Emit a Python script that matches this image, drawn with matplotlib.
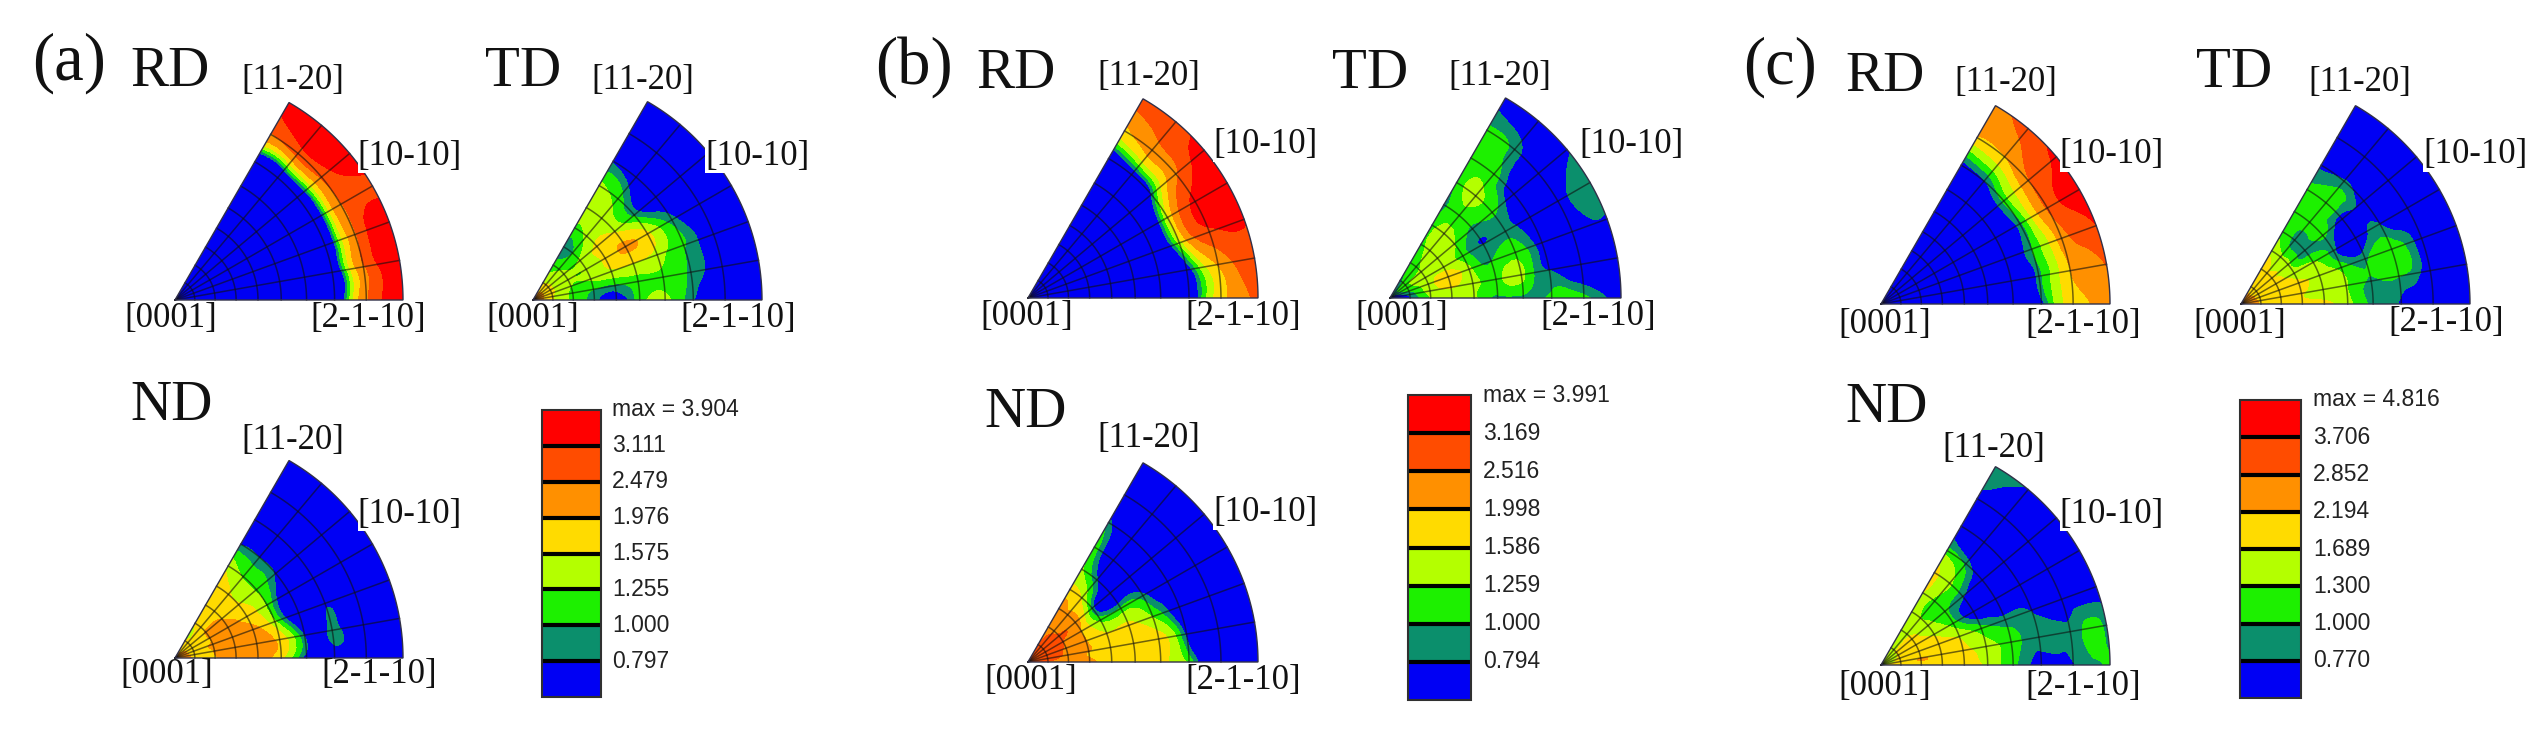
import numpy as np
import matplotlib
matplotlib.use("Agg")
import matplotlib.pyplot as plt
import matplotlib.tri as mtri
from matplotlib.patches import Polygon

# inverse pole figure grid: polar angle nodes and stereographic radius nodes
theta_nodes = [0, 10, 20, 30, 40, 50, 60]
r_nodes = [0, .087, .176, .268, .364, .466, .577, .64, .70, .77, .839, .92, 1]
grid_r = [.087, .176, .268, .364, .466, .577, .70, .839]
grid_theta = [10, 20, 30, 40, 50]

colors = ["#0000f4", "#0b8f6c", "#1df000", "#b4ff00", "#ffdb00", "#ff9000", "#ff4c00", "#ff0000"]

levels_a = [0, 0.797, 1.000, 1.255, 1.575, 1.976, 2.479, 3.111, 3.904]
levels_b = [0, 0.794, 1.000, 1.259, 1.586, 1.998, 2.516, 3.169, 3.991]
levels_c = [0, 0.770, 1.000, 1.300, 1.689, 2.194, 2.852, 3.706, 4.816]

# rows follow theta_nodes, columns follow r_nodes
a_rd = [
    [.3, .3, .3, .3, .3, .3, .3, .3, .3, 1.55, 2.5, 3.3, 3.5],
    [.3, .3, .3, .3, .3, .3, .3, .3, .3, 1.55, 2.5, 3.4, 3.5],
    [.3, .3, .3, .3, .3, .3, .3, .3, .3, 1.55, 2.5, 3.5, 3.5],
    [.3, .3, .3, .3, .3, .3, .3, .3, .3, 1.55, 2.5, 2.9, 3.0],
    [.3, .3, .3, .3, .3, .3, .3, .3, .3, 1.55, 2.7, 3.4, 3.6],
    [.3, .3, .3, .3, .3, .3, .3, .3, .3, 1.55, 2.85, 3.6, 3.7],
    [.3, .3, .3, .3, .3, .3, .3, .3, .3, 1.55, 2.5, 3.1, 3.5],
]
a_td = [
    [2.5, 1.6, 1.2, .85, .55, 1.15, 1.3, 1.05, .78, .5, .4, .4, .4],
    [2.5, 1.6, 1.2, 1.0, .95, 1.15, 1.2, 1.1, .92, .72, .4, .4, .4],
    [2.5, 1.65, 1.25, 1.3, 1.5, 1.55, 1.4, 1.15, 1.0, .72, .4, .4, .4],
    [2.5, 1.65, 1.3, 1.3, 1.7, 2.05, 1.6, 1.15, .85, .5, .4, .4, .4],
    [2.5, 1.65, 1.3, 1.3, 1.65, 1.5, .9, .6, .5, .4, .4, .4, .4],
    [2.4, 1.6, 1.2, 1.0, 1.35, 1.4, 1.1, .8, .5, .4, .4, .4, .4],
    [2.3, 1.5, 1.1, .88, 1.2, 1.35, 1.3, 1.0, .72, .4, .4, .4, .4],
]
a_nd = [
    [2.6, 1.9, 1.95, 2.15, 2.15, 1.6, .6, .5, .5, .5, .5, .5, .5],
    [2.6, 1.85, 2.0, 2.2, 2.2, 1.8, .7, .6, .88, .55, .5, .5, .5],
    [2.6, 1.85, 2.05, 2.2, 2.1, 1.25, .4, .5, .72, .5, .5, .5, .5],
    [2.5, 1.8, 2.0, 2.1, 1.8, 1.15, .4, .4, .4, .4, .4, .4, .4],
    [2.4, 1.75, 2.0, 1.95, 1.6, 1.2, .7, .4, .4, .4, .4, .4, .4],
    [2.3, 1.6, 1.7, 1.7, 1.6, 1.2, .75, .4, .4, .4, .4, .4, .4],
    [2.2, 1.5, 1.6, 1.65, 1.75, 1.45, .72, .4, .4, .4, .4, .4, .4],
]
b_rd = [
    [.4, .4, .4, .4, .4, .4, .4, .4, .5, 1.3, 1.9, 2.3, 2.8],
    [.4, .4, .4, .4, .4, .4, .4, .4, .65, 1.5, 2.1, 2.7, 3.0],
    [.4, .4, .4, .4, .4, .4, .4, .6, 1.5, 2.6, 3.05, 3.3, 3.2],
    [.4, .4, .4, .4, .4, .4, .4, .65, 1.7, 2.8, 3.4, 3.6, 3.6],
    [.4, .4, .4, .4, .4, .4, .4, .4, .9, 1.9, 2.5, 3.2, 3.4],
    [.4, .4, .4, .4, .4, .4, .4, .4, .6, 1.65, 2.3, 2.75, 3.0],
    [.4, .4, .4, .4, .4, .4, .4, .4, .4, 1.3, 1.9, 2.45, 2.8],
]
b_td = [
    [.4, .75, 1.3, 1.45, 1.3, .95, .9, .95, 1.1, 1.2, 1.05, .82, .5],
    [.45, .85, 1.4, 1.6, 1.35, 1.2, 1.3, .9, .78, .55, .45, .4, .4],
    [.5, 1.0, 1.45, 1.75, 1.3, 1.0, 1.15, .9, .6, .45, .45, .7, .7],
    [.6, 1.15, 1.4, 1.45, 1.1, .79, .9, .7, .5, .45, .6, .95, .95],
    [.7, 1.2, 1.3, 1.45, 1.25, .95, 1.05, .8, .5, .45, .45, .6, .78],
    [.75, 1.05, 1.2, 1.4, 1.4, 1.15, 1.35, 1.2, 1.1, .95, .9, .6, .45],
    [.8, .95, 1.05, 1.15, 1.15, .9, 1.05, 1.05, 1.1, 1.1, 1.02, .82, .5],
]
b_nd = [
    [2.2, 2.4, 2.2, 2.05, 1.8, 1.65, 1.65, 1.45, 1.1, .5, .5, .5, .5],
    [2.4, 2.8, 2.3, 2.0, 1.8, 1.75, 1.7, 1.3, .65, .5, .5, .5, .5],
    [2.5, 2.9, 2.4, 2.0, 1.6, 1.65, 1.2, .8, .4, .4, .4, .4, .4],
    [2.5, 3.0, 2.5, 1.95, 1.15, 1.05, .82, .5, .4, .4, .4, .4, .4],
    [2.4, 3.0, 2.6, 2.2, .85, .45, .4, .4, .4, .4, .4, .4, .4],
    [2.3, 2.8, 2.4, 2.05, 1.5, .78, .4, .4, .4, .4, .4, .4, .4],
    [2.0, 2.5, 2.3, 2.2, 1.7, 1.3, 1.15, 1.05, .85, .4, .4, .4, .4],
]
c_rd = [
    [.5, .5, .5, .5, .5, .5, .5, .5, .7, 1.55, 1.85, 2.25, 2.6],
    [.5, .5, .5, .5, .5, .5, .5, .5, .95, 1.55, 2.25, 2.55, 2.95],
    [.5, .5, .5, .5, .5, .5, .5, .65, 1.05, 1.65, 2.6, 3.2, 3.8],
    [.5, .5, .5, .5, .5, .5, .5, .6, .98, 2.0, 3.1, 3.9, 4.1],
    [.5, .5, .5, .5, .5, .5, .5, .6, 1.15, 1.9, 2.9, 3.5, 4.0],
    [.5, .5, .5, .5, .5, .5, .5, .5, .8, 1.5, 2.25, 2.8, 3.2],
    [.5, .5, .5, .5, .5, .5, .5, .4, .7, 1.35, 2.2, 2.5, 2.7],
]
c_td = [
    [3.0, 2.1, 1.85, 1.75, 1.75, 1.4, .92, .85, .7, .5, .5, .5, .5],
    [3.0, 2.1, 1.8, 1.7, 1.6, 1.3, .95, 1.05, 1.0, .85, .5, .5, .5],
    [3.0, 2.0, 1.75, 1.75, 1.55, 1.15, .95, 1.2, 1.15, .9, .5, .5, .5],
    [3.0, 2.0, 1.8, 1.5, 1.3, .8, .5, .8, .72, .5, .5, .5, .5],
    [3.0, 1.9, 1.7, 1.35, .85, 1.05, .6, .75, .5, .5, .5, .5, .5],
    [3.0, 1.85, 1.7, 1.35, .9, 1.15, 1.2, 1.05, .76, .5, .5, .5, .5],
    [2.8, 1.8, 1.75, 1.55, 1.2, 1.15, 1.05, .9, .65, .5, .5, .5, .5],
]
c_nd = [
    [1.6, 1.9, 2.1, 2.0, 2.1, 1.5, 1.05, .77, .6, .6, .77, .9, 1.1],
    [1.6, 1.8, 2.2, 1.95, 1.8, 1.4, 1.15, .9, .85, .85, .85, 1.1, .82],
    [1.6, 1.75, 2.0, 1.9, 1.6, 1.1, .85, .85, .72, .6, .6, .6, .6],
    [1.6, 1.7, 1.8, 1.6, 1.1, .5, .5, .5, .5, .5, .5, .5, .5],
    [1.6, 1.7, 1.75, 1.4, 1.05, .78, .5, .5, .5, .5, .5, .5, .5],
    [1.6, 1.6, 1.6, 1.3, 1.2, 1.35, .85, .5, .5, .5, .5, .6, .76],
    [1.6, 1.55, 1.5, 1.5, 1.7, 1.8, 1.05, .72, .55, .55, .65, .9, .95],
]

# (grid, levels, apex x, apex y, radius)
wedges = [
    (a_rd, levels_a, 175, 300, 228),
    (a_td, levels_a, 533, 300, 229),
    (a_nd, levels_a, 175, 658, 228),
    (b_rd, levels_b, 1028, 298, 230),
    (b_td, levels_b, 1390, 298, 231),
    (b_nd, levels_b, 1028, 662, 230),
    (c_rd, levels_c, 1881, 304, 229),
    (c_td, levels_c, 2241, 304, 229),
    (c_nd, levels_c, 1881, 665, 229),
]

# (levels, left, right, top, bottom, text x)
bars = [
    (levels_a, 542, 601, 410, 697, 612),
    (levels_b, 1408, 1471, 395, 700, 1483),
    (levels_c, 2240, 2301, 400, 698, 2313),
]

# (text, x, y)
big_labels = [
    ("(a)", 69, 63), ("(b)", 914, 67), ("(c)", 1780, 67),
]
dir_labels = [
    ("RD", 170, 72), ("TD", 523, 72), ("ND", 172, 406),
    ("RD", 1016, 74), ("TD", 1370, 74), ("ND", 1026, 413),
    ("RD", 1885, 77), ("TD", 2234, 73), ("ND", 1887, 408),
]
pole_labels = [
    ("[11-20]", 293, 81), ("[10-10]", 410, 156), ("[0001]", 171, 318), ("[2-1-10]", 368, 318),
    ("[11-20]", 643, 81), ("[10-10]", 757, 156), ("[0001]", 533, 318), ("[2-1-10]", 738, 318),
    ("[11-20]", 293, 441), ("[10-10]", 410, 514), ("[0001]", 167, 675), ("[2-1-10]", 379, 675),
    ("[11-20]", 1149, 76), ("[10-10]", 1265, 145), ("[0001]", 1027, 317), ("[2-1-10]", 1243, 317),
    ("[11-20]", 1500, 76), ("[10-10]", 1632, 145), ("[0001]", 1402, 317), ("[2-1-10]", 1598, 317),
    ("[11-20]", 1149, 439), ("[10-10]", 1265, 513), ("[0001]", 1031, 680), ("[2-1-10]", 1243, 680),
    ("[11-20]", 2006, 83), ("[10-10]", 2112, 155), ("[0001]", 1885, 325), ("[2-1-10]", 2083, 325),
    ("[11-20]", 2360, 83), ("[10-10]", 2475, 155), ("[0001]", 2240, 325), ("[2-1-10]", 2446, 323),
    ("[11-20]", 1994, 449), ("[10-10]", 2112, 514), ("[0001]", 1885, 687), ("[2-1-10]", 2083, 687),
]

fig = plt.figure(figsize=(25.43, 7.30), dpi=100, facecolor="white")
ax = fig.add_axes([0, 0, 1, 1])
ax.set_xlim(0, 2543)
ax.set_ylim(730, 0)
ax.axis("off")


def polar_xy(ax0, ay0, rad, r, th):
    t = np.radians(th)
    return ax0 + rad * r * np.cos(t), ay0 - rad * r * np.sin(t)


# triangulate in (r, theta) so contours come out rounded
tt, rm = np.meshgrid(np.array(theta_nodes, dtype=float), np.array(r_nodes), indexing="ij")
base_tri = mtri.Triangulation(rm.ravel(), tt.ravel() / 60)
refiner = mtri.UniformTriRefiner(base_tri)

for grid, levels, ax0, ay0, rad in wedges:
    fine_tri, fine_z = refiner.refine_field(np.array(grid, dtype=float).ravel(), subdiv=3)
    fine_z = np.clip(fine_z, levels[0] + 0.01, levels[-1] - 0.01)
    X, Y = polar_xy(ax0, ay0, rad * 1.012, fine_tri.x, fine_tri.y * 60)
    cs = ax.tricontourf(mtri.Triangulation(X, Y, fine_tri.triangles), fine_z, levels=levels,
                        colors=colors, zorder=1)

    arc = np.linspace(0, 60, 121)
    ox, oy = polar_xy(ax0, ay0, rad, 1.0, arc)
    outline = Polygon(np.vstack([[ax0, ay0], np.column_stack([ox, oy])]), closed=True,
                      facecolor="none", edgecolor="#303048", lw=1.0, zorder=3)
    ax.add_patch(outline)
    cs.set_clip_path(outline)

    for r in grid_r:
        gx, gy = polar_xy(ax0, ay0, rad, r, arc)
        ax.plot(gx, gy, color="#101010", lw=1.1, alpha=0.6, zorder=2)
    for th in grid_theta:
        gx, gy = polar_xy(ax0, ay0, rad, np.array([0, 1]), th)
        ax.plot(gx, gy, color="#101010", lw=1.1, alpha=0.6, zorder=2)

for levels, left, right, top, bottom, tx in bars:
    band = (bottom - top) / 8
    for i, col in enumerate(colors):
        ax.bar(left, band, width=right - left, bottom=bottom - (i + 1) * band, align="edge",
               color=col, edgecolor="none", zorder=1)
    for i in range(1, 8):
        ax.plot([left, right], [bottom - i * band] * 2, color="black", lw=3, zorder=2,
                solid_capstyle="butt")
        ax.text(tx, bottom - i * band, "%.3f" % levels[i], family="Liberation Sans",
                fontsize=16.5, color="#222222", ha="left", va="center")
    ax.bar(left, bottom - top, width=right - left, bottom=top, align="edge",
           facecolor="none", edgecolor="#303030", lw=1.5, zorder=3)
    ax.text(tx, top, "max = %.3f" % levels[-1], family="Liberation Sans",
            fontsize=16.5, color="#222222", ha="left", va="center")

for s, x, y in big_labels:
    ax.text(x, y, s, family="Liberation Serif", fontsize=48, ha="center", va="center", color="#111111")
for s, x, y in dir_labels:
    ax.text(x, y, s, family="Liberation Serif", fontsize=41, ha="center", va="center", color="#111111")
for s, x, y in pole_labels:
    ax.text(x, y, s, family="Liberation Serif", fontsize=25, ha="center", va="center", color="#111111",
            zorder=5, bbox=dict(facecolor="white", edgecolor="none", pad=0))

fig.savefig("out.png", dpi=100, facecolor="white")
